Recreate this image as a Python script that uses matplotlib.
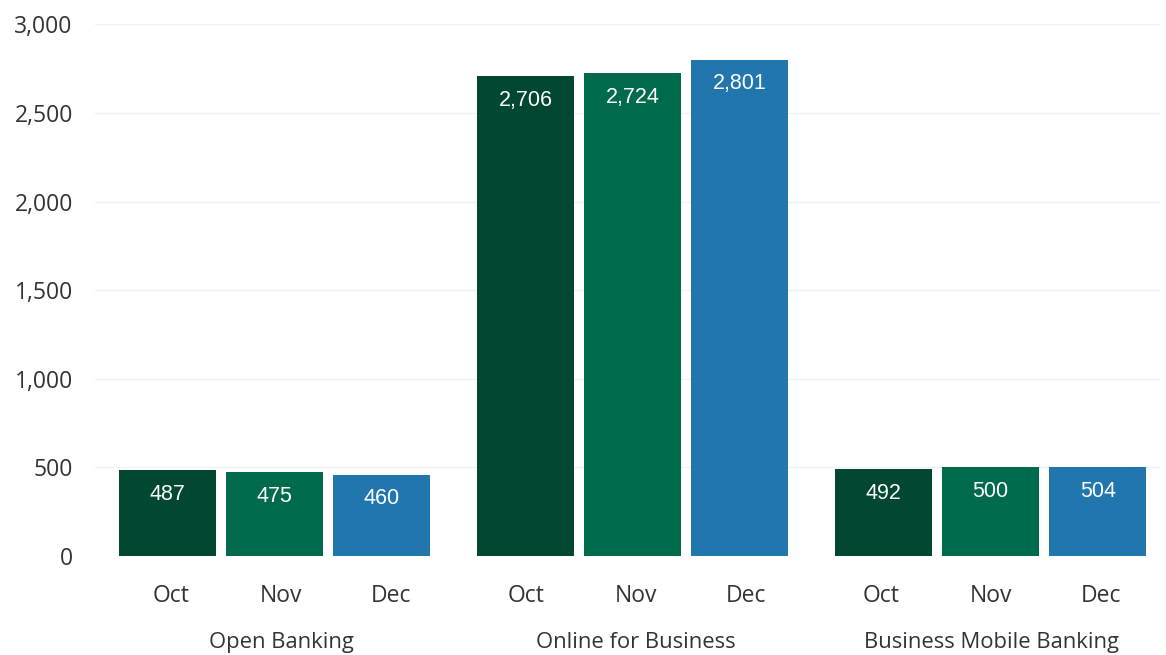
import numpy as np
import matplotlib.pyplot as plt

groups = ["Open Banking", "Online for Business", "Business Mobile Banking"]
months = ["Oct", "Nov", "Dec"]
oct_vals = [487, 2706, 492]
nov_vals = [475, 2724, 500]
dec_vals = [460, 2801, 504]
colors = ["#024731", "#006B4C", "#2176AE"]

plt.rcParams['font.family'] = ['Open Sans', 'DejaVu Sans']

fig = plt.figure(figsize=(11.66, 6.55), dpi=100)
ax = fig.add_axes([0.0815, 0.151, 0.9135, 0.812])

group_gap = 3.346
width = 0.907
series = [oct_vals, nov_vals, dec_vals]
centers = np.arange(len(groups)) * group_gap

for m, vals in enumerate(series):
    xs = centers + m
    bars = ax.bar(xs, vals, width=width, color=colors[m], zorder=3)
    for b, v in zip(bars, vals):
        ax.annotate(f"{v:,}", (b.get_x() + b.get_width() / 2, v),
                    xytext=(0, -10), textcoords="offset points",
                    ha="center", va="top", color="white", fontsize=15.5,
                    family="Liberation Sans", zorder=4)

ax.set_ylim(0, 3000)
ax.set_xlim(-0.678, centers[-1] + 2 + 0.584)
ax.set_yticks(np.arange(0, 3001, 500))
ax.set_yticklabels([f"{t:,}" for t in range(0, 3001, 500)])
ax.grid(axis="y", color="#EEF1F5", linewidth=1, zorder=0)
for s in ax.spines.values():
    s.set_visible(False)
ax.tick_params(axis="y", length=0, pad=16, labelsize=16.5, labelcolor="#333333")
ax.tick_params(axis="x", length=0, labelbottom=False)

# category labels sit on a slightly different pitch than the bars
label_centers = np.arange(len(groups)) * 3.318 + 0.033
for m in range(3):
    for c in label_centers:
        ax.annotate(months[m], (c + m * 1.028, 0), xytext=(0, -29), textcoords="offset points",
                    ha="center", va="center", fontsize=16.5, color="#333333",
                    annotation_clip=False)
for g, c in zip(groups, label_centers):
    ax.annotate(g, (c + 1.028, 0), xytext=(0, -62), textcoords="offset points",
                ha="center", va="center", fontsize=15.8, color="#333333",
                annotation_clip=False)

fig.savefig("out.png", dpi=100)
